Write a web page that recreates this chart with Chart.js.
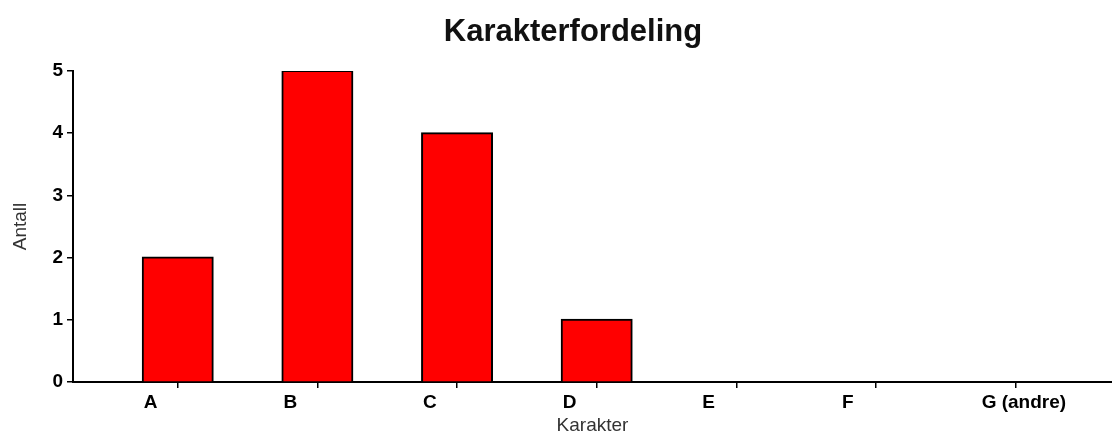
<!DOCTYPE html>
<html>
<head>
<meta charset="utf-8">
<script src="https://cdn.jsdelivr.net/npm/chart.js@4.4.1/dist/chart.umd.min.js"></script>
<style>
  body { margin: 0; background: #fff; }
</style>
</head>
<body>
<canvas id="gradeChart" width="1112" height="435"></canvas>
<script>
const grades = ['A', 'B', 'C', 'D', 'E', 'F', 'G (andre)'];
const counts = [2, 5, 4, 1, 0, 0, 0];
const countTicks = [0, 1, 2, 3, 4, 5];

const FONT = 'Liberation Sans, Arial, sans-serif';

new Chart(document.getElementById('gradeChart'), {
    type: 'bar',
    data: {
        datasets: [{
            label: 'Antall',
            data: counts.map((v, i) => ({ x: i, y: v })),
            backgroundColor: '#ff0000',
            borderColor: '#000000',
            borderWidth: 2,
            inflateAmount: 1,
            barPercentage: 1,
            categoryPercentage: 0.501,
        }]
    },
    options: {
        responsive: false,
        animation: false,
        devicePixelRatio: 1,
        layout: { padding: { left: 34, right: 0, top: 0, bottom: 0 } },
        plugins: {
            legend: { display: false },
            tooltip: { enabled: false },
            title: {
                display: true,
                text: 'Karakterfordeling',
                color: '#111',
                font: { family: FONT, size: 31, weight: 'bold' },
                padding: { top: 14, bottom: 19.8 }
            }
        },
        scales: {
            x: {
                type: 'linear',
                offset: false,
                min: -0.75,
                max: 6.69,
                z: 1,
                afterBuildTicks: axis => { axis.ticks = grades.map((g, i) => ({ value: i })); },
                afterFit: axis => { axis.height = 53; },
                ticks: {
                    callback: v => grades[v],
                    align: 'start',
                    labelOffset: -34,
                    padding: 3,
                    maxRotation: 0,
                    autoSkip: false,
                    color: '#000',
                    font: { family: FONT, size: 19, weight: 'bold' }
                },
                grid: { offset: false, drawOnChartArea: false, tickLength: 6, color: '#000', lineWidth: 1.5 },
                border: { color: '#000', width: 2 },
                title: {
                    display: true,
                    text: 'Karakter',
                    color: '#333',
                    font: { family: FONT, size: 19, lineHeight: 1 },
                    padding: { top: 2, bottom: 0 }
                }
            },
            y: {
                min: 0,
                max: 5,
                z: 1,
                afterBuildTicks: axis => { axis.ticks = countTicks.map(v => ({ value: v })); },
                afterFit: axis => { axis.width = 39; },
                ticks: {
                    padding: 4,
                    color: '#000',
                    font: { family: FONT, size: 19, weight: 'bold' }
                },
                grid: { drawOnChartArea: false, tickLength: 6, color: '#000', lineWidth: 1.5 },
                border: { color: '#000', width: 2 },
                title: {
                    display: true,
                    text: 'Antall',
                    color: '#333',
                    font: { family: FONT, size: 19, lineHeight: 1 },
                    padding: { top: -23, bottom: 0 }
                }
            }
        }
    }
});
</script>
</body>
</html>
